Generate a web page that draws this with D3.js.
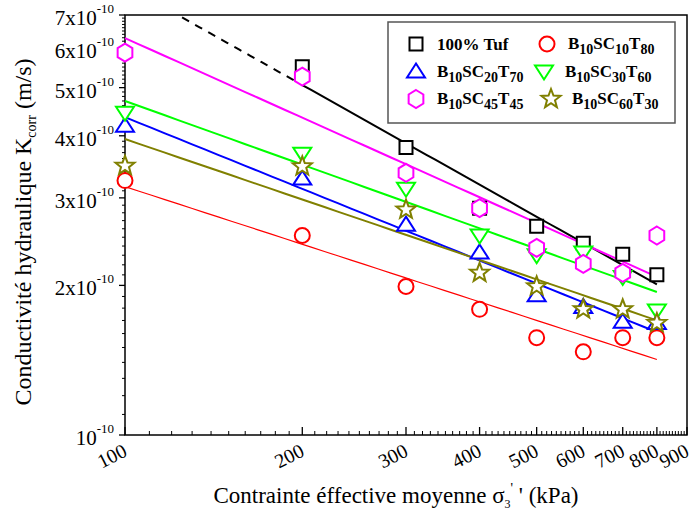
<!DOCTYPE html>
<html><head><meta charset="utf-8">
<script src="https://cdn.jsdelivr.net/npm/d3@7"></script>
<style>body{margin:0;background:#fff}svg{display:block}text{font-family:"Liberation Serif","Times New Roman",serif}</style>
</head><body><svg id="c" width="694" height="513"></svg>
<script>
// ---- data (K in units of 1e-10 m/s) ----
const sigma = [100, 200, 300, 400, 500, 600, 700, 800];
const kTuf  = [null, 5.51, 3.79, 2.86, 2.63, 2.43, 2.31, 2.10];
const kSC10 = [3.25, 2.52, 1.99, 1.79, 1.57, 1.47, 1.57, 1.57];
const kSC20 = [4.19, 3.28, 2.65, 2.33, 1.91, 1.81, 1.69, 1.68];
const kSC30 = [4.45, 3.68, 3.13, 2.52, 2.30, 2.33, 2.08, 1.78];
const kSC45 = [5.88, 5.26, 3.37, 2.86, 2.38, 2.21, 2.12, 2.52];
const kSC60 = [3.48, 3.47, 2.84, 2.12, 1.99, 1.79, 1.79, 1.68];
const seriesNames = ["100% Tuf", "B10SC10T80", "B10SC20T70", "B10SC30T60", "B10SC45T45", "B10SC60T30"];
// power-law fits K = K100 * (sigma/100)^b
const fitK100  = [8.03, 3.16, 4.36, 4.70, 6.29, 3.94];
const fitSlope = [-0.666, -0.385, -0.479, -0.4256, -0.532, -0.404];
const fitFrom  = [200, 100, 100, 100, 100, 100];
const fitTo    = [800, 800, 800, 800, 800, 800];
const dashFrom = 125; // extrapolated (dashed) part of the 100% Tuf fit
const dashTo = 195;
const xTickValues = [100, 200, 300, 400, 500, 600, 700, 800, 900];
const yTickValues = [1, 2, 3, 4, 5, 6, 7];

const allK = [kTuf, kSC10, kSC20, kSC30, kSC45, kSC60];
const colors = ["#000000", "#ff0000", "#0000ff", "#00ff00", "#ff00ff", "#808000"];
const shapes = ["square", "circle", "tri", "tridown", "hex", "star"];

const svg = d3.select("#c");
const x = d3.scaleLog().domain([100, 900]).range([125, 687]);
const y = d3.scaleLog().domain([1, 7]).range([435, 15]);

function shapePath(s) {
  const p = d3.path();
  if (s === "square") { p.rect(-6.5, -6.5, 13, 13); }
  else if (s === "circle") { p.arc(0, 0, 7.5, 0, 2 * Math.PI); p.closePath(); }
  else if (s === "tri") { p.moveTo(0, -8); p.lineTo(9, 6); p.lineTo(-9, 6); p.closePath(); }
  else if (s === "tridown") { p.moveTo(0, 8); p.lineTo(9, -6); p.lineTo(-9, -6); p.closePath(); }
  else if (s === "hex") {
    for (let i = 0; i < 6; i++) { const a = -Math.PI / 2 + i * Math.PI / 3; const px = 8.5 * Math.cos(a), py = 9 * Math.sin(a); i ? p.lineTo(px, py) : p.moveTo(px, py); }
    p.closePath();
  } else if (s === "star") {
    for (let i = 0; i < 10; i++) { const r = i % 2 ? 4.2 : 10; const a = -Math.PI / 2 + i * Math.PI / 5; const px = r * Math.cos(a), py = r * Math.sin(a); i ? p.lineTo(px, py) : p.moveTo(px, py); }
    p.closePath();
  }
  return p.toString();
}

// ---- frame ----
svg.append("rect").attr("x", 125).attr("y", 15).attr("width", 687 - 125).attr("height", 435 - 15)
  .attr("fill", "none").attr("stroke", "#000").attr("stroke-width", 1.5);

// x ticks (inward)
const xMinorVals = [];
for (let v = 110; v < 900; v += 10) if (v % 100 !== 0) xMinorVals.push(v);
svg.append("g").selectAll("line").data(xMinorVals).join("line")
  .attr("x1", d => x(d)).attr("x2", d => x(d)).attr("y1", 435).attr("y2", 431)
  .attr("stroke", "#000").attr("stroke-width", 1);
svg.append("g").selectAll("line").data(xTickValues).join("line")
  .attr("x1", d => x(d)).attr("x2", d => x(d)).attr("y1", 435).attr("y2", 427)
  .attr("stroke", "#000").attr("stroke-width", 1.3);
svg.append("g").selectAll("text").data(xTickValues).join("text")
  .attr("transform", d => `translate(${x(d) - 10},${462}) rotate(-27)`)
  .attr("text-anchor", "middle").attr("font-size", 20).text(d => d);

// y ticks (outward)
const yMinorVals = [];
for (let v = 1.1; v < 7; v += 0.1) { const r = Math.round(v * 10) / 10; if (Math.abs(r - Math.round(r)) > 1e-6) yMinorVals.push(r); }
svg.append("g").selectAll("line").data(yMinorVals).join("line")
  .attr("x1", 125).attr("x2", 122).attr("y1", d => y(d)).attr("y2", d => y(d))
  .attr("stroke", "#000").attr("stroke-width", 1);
svg.append("g").selectAll("line").data(yTickValues).join("line")
  .attr("x1", 125).attr("x2", 119).attr("y1", d => y(d)).attr("y2", d => y(d))
  .attr("stroke", "#000").attr("stroke-width", 1.3);
const yl = svg.append("g").selectAll("text").data(yTickValues).join("text")
  .attr("x", 114).attr("y", d => y(d) + 10).attr("text-anchor", "end");
yl.append("tspan").attr("font-size", 21).text(d => d === 1 ? "10" : d + "x10");
yl.append("tspan").attr("font-size", 13).attr("dy", -12).text("-10");

// axis titles
const xt = svg.append("text").attr("x", 396).attr("y", 503).attr("text-anchor", "middle").attr("font-size", 23);
xt.append("tspan").text("Contrainte éffective moyenne  σ");
xt.append("tspan").attr("font-size", 12).attr("dy", 5).text("3");
xt.append("tspan").attr("font-size", 14).attr("dy", -15).text("'");
xt.append("tspan").attr("dy", 10).text(" ' (kPa)");

const yt = svg.append("text").attr("transform", "translate(31,232) rotate(-90)").attr("text-anchor", "middle").attr("font-size", 24);
yt.append("tspan").text("Conductivité hydraulique K");
yt.append("tspan").attr("font-size", 14).attr("dy", 5).text("corr");
yt.append("tspan").attr("dy", -5).text("  (m/s)");

// ---- fit lines ----
const plot = svg.append("g");
const fitVal = (i, s) => fitK100[i] * Math.pow(s / 100, fitSlope[i]);
const lineGen = d3.line().x(d => x(d[0])).y(d => y(d[1]));
allK.forEach((_, i) => {
  const pts = d3.range(0, 41).map(j => { const s = fitFrom[i] * Math.pow(fitTo[i] / fitFrom[i], j / 40); return [s, fitVal(i, s)]; });
  plot.append("path").attr("d", lineGen(pts)).attr("fill", "none").attr("stroke", colors[i])
    .attr("stroke-width", i === 1 ? 1.2 : 2);
});
{
  const pts = d3.range(0, 21).map(j => { const s = dashFrom * Math.pow(dashTo / dashFrom, j / 20); return [s, fitVal(0, s)]; });
  plot.append("path").attr("d", lineGen(pts)).attr("fill", "none").attr("stroke", "#000")
    .attr("stroke-width", 2).attr("stroke-dasharray", "8,7");
}

// ---- markers ----
allK.forEach((arr, i) => {
  const pts = sigma.map((s, j) => [s, arr[j]]).filter(d => d[1] != null);
  plot.append("g").selectAll("path").data(pts).join("path")
    .attr("transform", d => `translate(${x(d[0])},${y(d[1])})`)
    .attr("d", shapePath(shapes[i])).attr("fill", "#fff").attr("stroke", colors[i]).attr("stroke-width", 2);
});

// ---- legend ----
const lg = svg.append("g");
lg.append("rect").attr("x", 388).attr("y", 22).attr("width", 287).attr("height", 101)
  .attr("fill", "#fff").attr("stroke", "#555").attr("stroke-width", 1.5);
const legMX = [416, 547, 416, 544, 416, 551];
seriesNames.forEach((name, i) => {
  const row = Math.floor(i / 2);
  const cy = 44 + row * 27.5;
  const mx = legMX[i];
  lg.append("path").attr("transform", `translate(${mx},${cy})`).attr("d", shapePath(shapes[i]))
    .attr("fill", "#fff").attr("stroke", colors[i]).attr("stroke-width", 2);
  const t = lg.append("text").attr("x", mx + 21).attr("y", cy + 5).attr("font-weight", "bold").attr("font-size", 17);
  if (/^B\d/.test(name)) {
    const parts = name.match(/[A-Z]+|\d+/g);
    let sub = false;
    parts.forEach(p => {
      const isNum = /\d/.test(p);
      const ts = t.append("tspan").text(p);
      if (isNum && !sub) { ts.attr("dy", 5).attr("font-size", 14); sub = true; }
      else if (isNum) { ts.attr("font-size", 14); }
      else if (!isNum && sub) { ts.attr("dy", -5); sub = false; }
    });
  } else {
    t.attr("y", cy + 6).text(name);
  }
});
</script></body></html>
